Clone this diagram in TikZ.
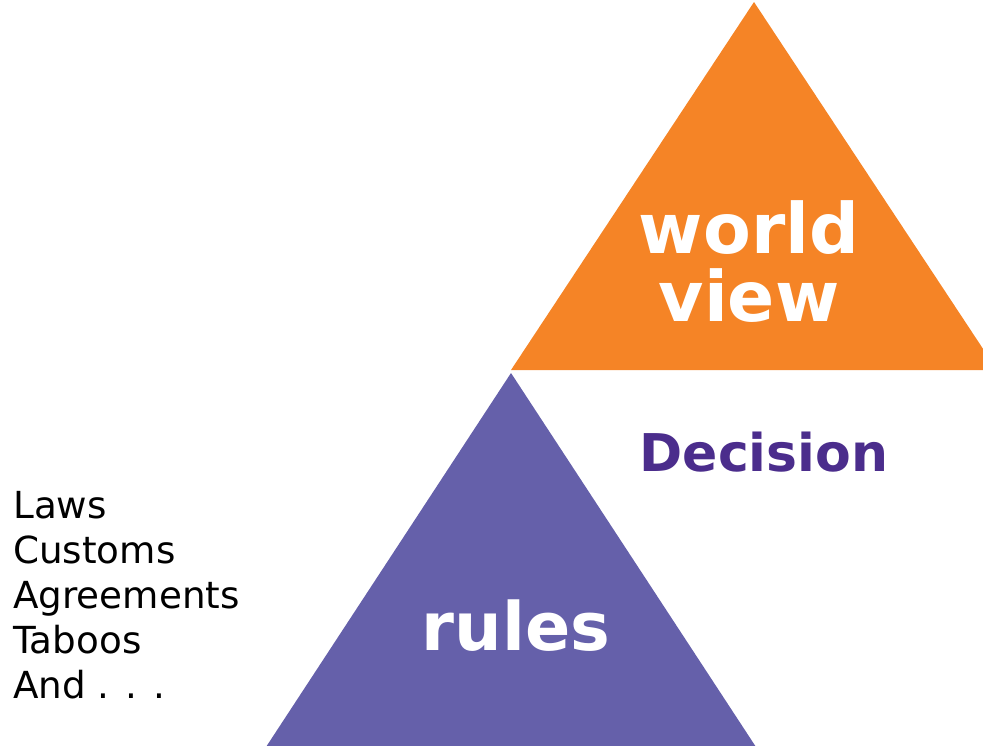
\documentclass[tikz,border=0pt]{standalone}
\usepackage{fontspec}
\setmainfont{DejaVu Sans}
\usetikzlibrary{positioning}
\definecolor{color_worl}{RGB}{245,132,38}
\definecolor{color_rule}{RGB}{101,96,170}
\definecolor{color_deci}{RGB}{75,45,140}

\begin{document}
\begin{tikzpicture}[x=0.025cm, y=-0.025cm,
  big label/.style={text=white, font=\bfseries\fontsize{49.5}{48}\selectfont, align=center, inner sep=0},
  list label/.style={text=black, font=\fontsize{26.5}{32}\selectfont, align=left, inner sep=0}]

  \useasboundingbox (0,0) rectangle (983,745);
  \clip (0,0) rectangle (983,745);

  % WORLD VIEW
  \coordinate (worl_top) at (754,2);
  \coordinate (worl_left) at (511,370);
  \coordinate (worl_right) at (997,370);
  \fill[color_worl] (worl_top) -- (worl_left) -- (worl_right) -- cycle;
  \node[big label, anchor=base] (worl) at (749,321) {world\\view};

  %
  % RULES
  \coordinate (rule_top) at (511,373);
  \coordinate (rule_left) at (266,747);
  \coordinate (rule_right) at (756,747);
  \fill[color_rule] (rule_top) -- (rule_left) -- (rule_right) -- cycle;
  \node[big label, font=\bfseries\fontsize{47.5}{48}\selectfont, anchor=base] (rule) at (516,650) {rules};

  %
  % DECISION
  \node[text=color_deci, font=\bfseries\fontsize{37}{44}\selectfont, inner sep=0, anchor=base] (deci) at (764,471) {Decision};

  %
  % LIST
  \node[list label, anchor=base west] (list) at (13,698) {Laws\\Customs\\Agreements\\Taboos\\And . . .};

\end{tikzpicture}
\end{document}
